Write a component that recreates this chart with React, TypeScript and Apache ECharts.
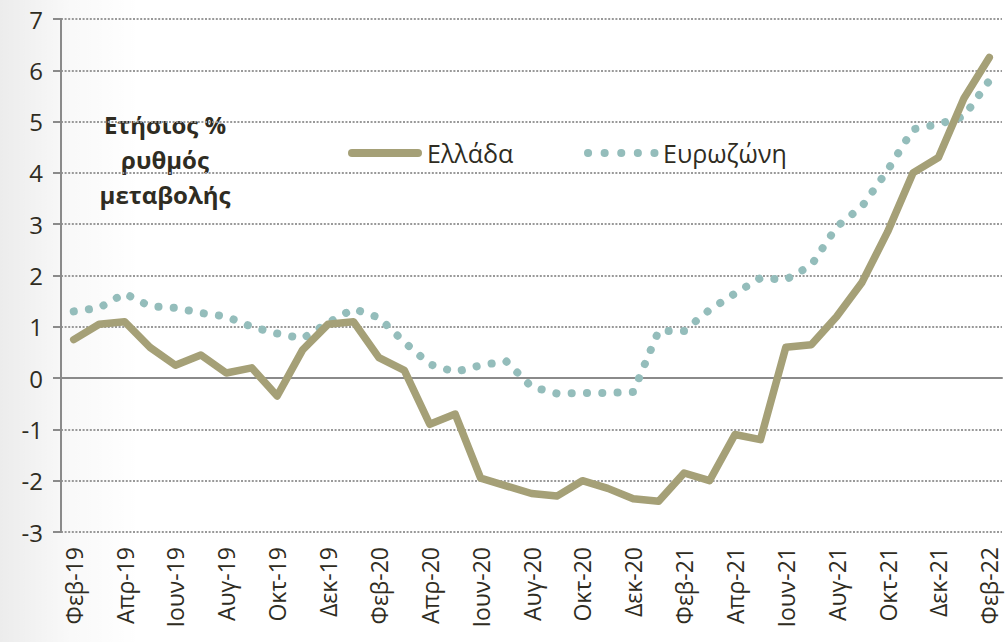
import React, { useEffect, useRef } from "react";
import * as echarts from "echarts";

const months: string[] = [
  "Φεβ-19", "Μαρ-19", "Απρ-19", "Μαϊ-19", "Ιουν-19", "Ιουλ-19", "Αυγ-19", "Σεπ-19", "Οκτ-19", "Νοε-19", "Δεκ-19",
  "Ιαν-20", "Φεβ-20", "Μαρ-20", "Απρ-20", "Μαϊ-20", "Ιουν-20", "Ιουλ-20", "Αυγ-20", "Σεπ-20", "Οκτ-20", "Νοε-20", "Δεκ-20",
  "Ιαν-21", "Φεβ-21", "Μαρ-21", "Απρ-21", "Μαϊ-21", "Ιουν-21", "Ιουλ-21", "Αυγ-21", "Σεπ-21", "Οκτ-21", "Νοε-21", "Δεκ-21",
  "Ιαν-22", "Φεβ-22",
];

const greece: number[] = [
  0.75, 1.05, 1.1, 0.6, 0.25, 0.45, 0.1, 0.2, -0.35, 0.55, 1.05,
  1.1, 0.4, 0.15, -0.9, -0.7, -1.95, -2.1, -2.25, -2.3, -2.0, -2.15, -2.35,
  -2.4, -1.85, -2.0, -1.1, -1.2, 0.6, 0.65, 1.2, 1.87, 2.85, 4.0, 4.3,
  5.45, 6.25,
];

const eurozone: number[] = [
  1.3, 1.37, 1.65, 1.4, 1.37, 1.27, 1.2, 1.0, 0.87, 0.77, 1.08,
  1.35, 1.18, 0.7, 0.27, 0.12, 0.25, 0.33, -0.17, -0.3, -0.29, -0.29, -0.27,
  0.92, 0.92, 1.33, 1.65, 1.95, 1.92, 2.2, 2.95, 3.35, 4.05, 4.85, 4.95,
  5.1, 5.8,
];

const yTicks = { min: -3, max: 7, interval: 1 };

const seriesNames = ["Ελλάδα", "Ευρωζώνη"];
const titleText = "Ετήσιος %\nρυθμός\nμεταβολής";

const TEXT = "#2f2c22";
const AXIS = "#8a8a8a";
const GREEN = "#a5a077";
const TEAL = "#94bdbb";
const FONT = "'Open Sans', 'Noto Sans', sans-serif";

export default function App() {
  const ref = useRef<HTMLDivElement>(null);
  useEffect(() => {
    if (!ref.current) return;
    const chart = echarts.init(ref.current, null, { renderer: "svg" });
    chart.setOption({
      animation: false,
      backgroundColor: "#ffffff",
      textStyle: { fontFamily: FONT },
      grid: { left: 61, right: 3, top: 19, bottom: 110, containLabel: false },
      xAxis: [
        {
          type: "category",
          data: months,
          boundaryGap: true,
          axisLine: { show: false, onZero: false },
          axisTick: { show: false },
          axisLabel: {
            interval: 1,
            rotate: 90,
            margin: 15,
            color: TEXT,
            fontSize: 23,
            lineHeight: 20,
            fontFamily: FONT,
          },
          splitLine: { show: false },
        },
        {
          type: "category",
          data: months,
          boundaryGap: true,
          position: "bottom",
          axisLine: { show: true, onZero: true, lineStyle: { color: AXIS, width: 2 } },
          axisTick: { show: false },
          axisLabel: { show: false },
          splitLine: { show: false },
        },
      ],
      yAxis: {
        type: "value",
        min: yTicks.min,
        max: yTicks.max,
        interval: yTicks.interval,
        axisLine: { show: true, lineStyle: { color: AXIS, width: 2 } },
        axisTick: { show: true, length: 8, lineStyle: { color: AXIS, width: 2 } },
        axisLabel: { color: TEXT, fontSize: 24, margin: 18, fontFamily: FONT },
        splitLine: { show: true, lineStyle: { color: "#999999", width: 2, type: [2, 1.6] } },
      },
      graphic: [
        {
          type: "rect",
          z: -100,
          silent: true,
          shape: { x: 0, y: 0, width: 140, height: 642 },
          style: {
            fill: new echarts.graphic.LinearGradient(0, 0, 1, 0, [
              { offset: 0, color: "rgba(0,0,0,0.075)" },
              { offset: 0.5, color: "rgba(0,0,0,0.025)" },
              { offset: 1, color: "rgba(0,0,0,0)" },
            ]),
          },
        },
        {
          type: "text",
          x: 165,
          y: 107,
          silent: true,
          style: {
            text: titleText,
            font: `bold 24px ${FONT}`,
            fill: TEXT,
            textAlign: "center",
            textVerticalAlign: "top",
            lineHeight: 35,
          },
        },
        {
          type: "line",
          silent: true,
          shape: { x1: 352, y1: 153, x2: 418, y2: 153 },
          style: { stroke: GREEN, lineWidth: 8, lineCap: "round" },
        },
        {
          type: "text",
          x: 427,
          y: 153,
          silent: true,
          style: {
            text: seriesNames[0],
            font: `25px ${FONT}`,
            fill: TEXT,
            textAlign: "left",
            textVerticalAlign: "middle",
          },
        },
        {
          type: "line",
          silent: true,
          shape: { x1: 588, y1: 153, x2: 655, y2: 153 },
          style: { stroke: TEAL, lineWidth: 8, lineCap: "round", lineDash: [0.1, 16.5] },
        },
        {
          type: "text",
          x: 663,
          y: 153,
          silent: true,
          style: {
            text: seriesNames[1],
            font: `25px ${FONT}`,
            fill: TEXT,
            textAlign: "left",
            textVerticalAlign: "middle",
          },
        },
      ],
      series: [
        {
          name: seriesNames[1],
          type: "line",
          data: eurozone,
          symbol: "none",
          z: 3,
          lineStyle: { color: TEAL, width: 8, type: [0.1, 15.2], cap: "round", join: "round" },
        },
        {
          name: seriesNames[0],
          type: "line",
          data: greece,
          symbol: "none",
          z: 4,
          lineStyle: { color: GREEN, width: 7.5, cap: "round", join: "round" },
        },
      ],
    });
    return () => chart.dispose();
  }, []);
  return (
    <div
      ref={ref}
      style={{ position: "fixed", left: 0, top: 0, width: 1005, height: 642 }}
    />
  );
}
